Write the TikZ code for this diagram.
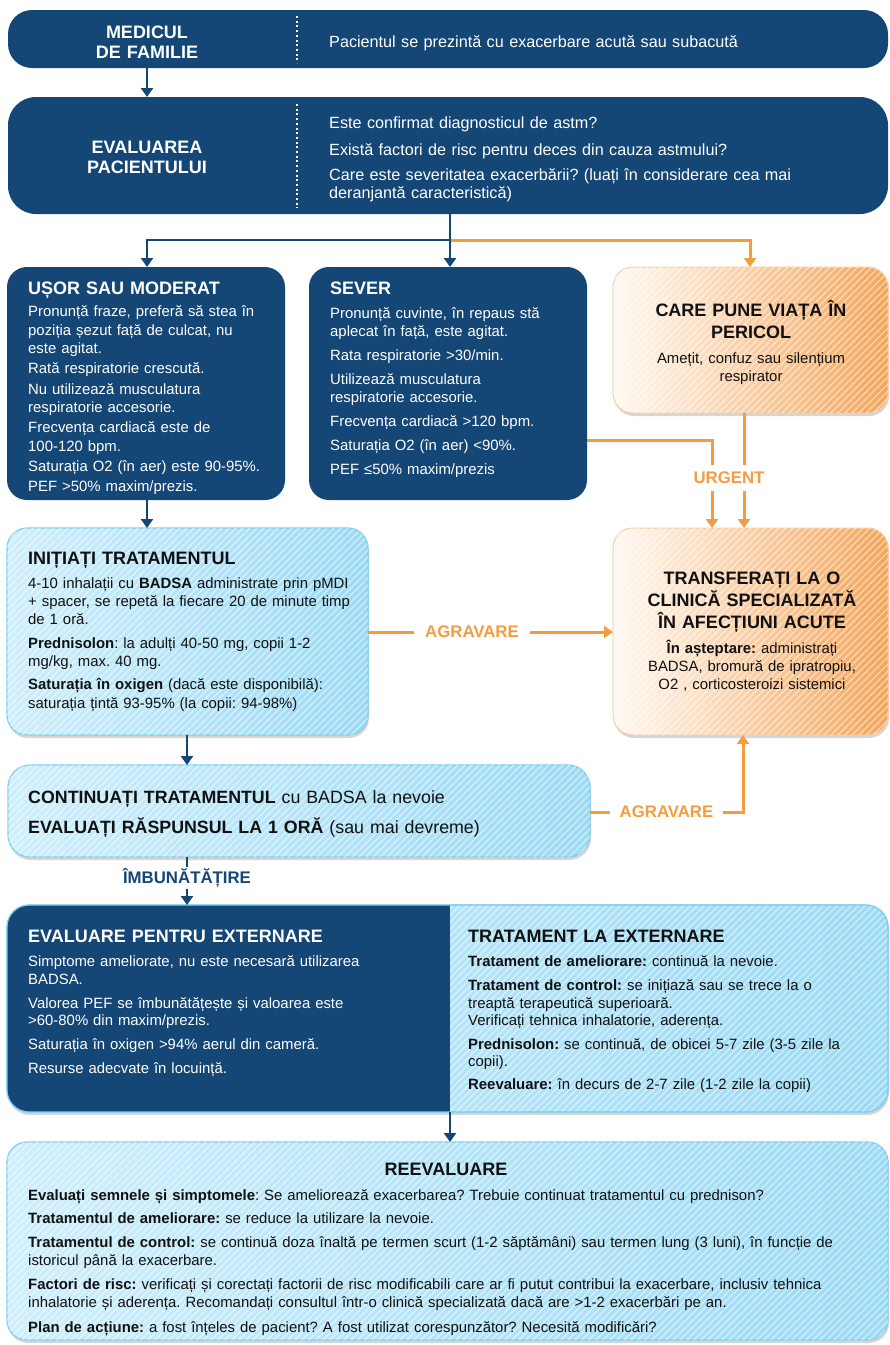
\documentclass[tikz,border=0pt]{standalone}
\usepackage{fontspec}
\setmainfont{Liberation Sans}
\usetikzlibrary{arrows.meta,backgrounds,calc}
\frenchspacing

\definecolor{navy}{RGB}{20,70,118}
\definecolor{skylight}{RGB}{206,238,252}
\definecolor{skydark}{RGB}{155,218,245}
\definecolor{skyedge}{RGB}{128,207,241}
\definecolor{amber}{RGB}{245,157,62}
\definecolor{amberlight}{RGB}{255,249,242}
\definecolor{amberdark}{RGB}{245,164,88}
\definecolor{amberedge}{RGB}{249,204,158}
\definecolor{ink}{RGB}{17,17,17}

\newcommand\fsz[2]{\fontsize{#1}{#2}\selectfont}

% thin white diagonal stripes clipped to a named rounded box
\newcommand\stripesin[2]{%
  \begin{scope}
    \clip[rounded corners=#2] (#1.north west) rectangle (#1.south east);
    \foreach \k in {-250,-243,...,890}
      \draw[hatchline] ($(#1.south west)+(\k,6)$) -- ++(250,-250);
  \end{scope}}

% soft offset shadow under a named rounded box
\newcommand\boxshadow[2]{%
  \begin{pgfonlayer}{background}
    \fill[black,opacity=0.16,rounded corners=#2]
      ($(#1.north west)+(1,3)$) rectangle ($(#1.south east)+(1,3)$);
  \end{pgfonlayer}}

\tikzset{
  box/.style={rectangle, inner sep=0pt, outer sep=0pt, anchor=north west},
  navybox/.style={box, fill=navy},
  skybox/.style={box, left color=skylight, right color=skydark, draw=skyedge, line width=1.2pt},
  amberbox/.style={box, left color=amberlight, right color=amberdark, draw=amberedge, line width=1pt},
  hatchline/.style={draw=white, line width=1.3pt, opacity=0.55},
  txt/.style={inner sep=0pt, anchor=base west, align=left, text width=#1},
  ctxt/.style={inner sep=0pt, anchor=base, align=center, text width=#1},
  bodyfont/.style={font=\fsz{14.9}{18.3}},
  barfont/.style={font=\fsz{16.2}{18.3}},
  headfont/.style={font=\fsz{18}{21.7}\bfseries},
  navyline/.style={draw=navy, line width=2.5pt},
  navyarrow/.style={navyline, -{Triangle[length=9pt,width=12pt]}},
  amberline/.style={draw=amber, line width=3pt},
  amberarrow/.style={amberline, -{Triangle[length=9pt,width=12pt]}},
  flowlabel/.style={fill=white, font=\fsz{16.8}{20}\bfseries, inner ysep=3pt, inner xsep=10pt},
  divider/.style={draw=white, line width=2pt, dash pattern=on 2pt off 2.7pt},
}

\begin{document}
\begin{tikzpicture}[x=1pt,y=-1pt]
\useasboundingbox (0,0) rectangle (890,1345);

% guide coordinates for the connectors
\coordinate (colA) at (147,0);
\coordinate (split) at (450,240);
\coordinate (colC) at (750,0);
\coordinate (colD) at (712,0);
\coordinate (colE) at (744,0);
\coordinate (colF) at (187,0);
\coordinate (colG) at (743,0);
\coordinate (rowU) at (0,440);
\coordinate (rowA) at (0,632);
\coordinate (rowB) at (0,812);

% boxes
\node[navybox, rounded corners=24pt, minimum width=880pt, minimum height=58pt] (fam) at (8,10) {};
\node[navybox, rounded corners=28pt, minimum width=880pt, minimum height=117pt] (eval) at (8,97) {};
\node[navybox, rounded corners=20pt, minimum width=278pt, minimum height=233pt] (usor) at (7,267) {};
\node[navybox, rounded corners=20pt, minimum width=278pt, minimum height=233pt] (sever) at (309,267) {};
\node[amberbox, rounded corners=20pt, minimum width=275pt, minimum height=146pt] (life) at (613,267) {};
\node[skybox, rounded corners=20pt, minimum width=361pt, minimum height=207pt] (init) at (7,528) {};
\node[amberbox, rounded corners=20pt, minimum width=275pt, minimum height=207pt] (transfer) at (613,528) {};
\node[skybox, rounded corners=22pt, minimum width=582pt, minimum height=92pt] (cont) at (8,765) {};
\node[skybox, rounded corners=22pt, minimum width=881pt, minimum height=207pt] (disch) at (7,905) {};
\node[skybox, rounded corners=20pt, minimum width=881pt, minimum height=198pt] (reeval) at (7,1142) {};

\boxshadow{life}{20pt}
\boxshadow{init}{20pt}
\boxshadow{transfer}{20pt}
\boxshadow{cont}{22pt}
\boxshadow{disch}{22pt}
\boxshadow{reeval}{20pt}

\stripesin{life}{20pt}
\stripesin{init}{20pt}
\stripesin{transfer}{20pt}
\stripesin{cont}{22pt}
\stripesin{reeval}{20pt}

% discharge box: dark left half, striped right half
\begin{scope}
  \clip[rounded corners=22pt] (disch.north west) rectangle (disch.south east);
  \fill[navy] (disch.north west) rectangle (disch.south -| split);
\end{scope}
\begin{scope}
  \clip (disch.north -| split) rectangle (disch.south east);
  \stripesin{disch}{22pt}
\end{scope}
\draw[skyedge, line width=1.2pt, rounded corners=22pt] (disch.north west) rectangle (disch.south east);

% dotted dividers in the two top bars
\draw[divider] (297,16) -- (297,63);
\draw[divider] (297,104) -- (297,208);

% connectors
\draw[navyarrow] (fam.south -| colA) -- (eval.north -| colA);
\draw[amberarrow] (split) -| (life.north -| colC);
\draw[navyline] (eval.south -| split) -- (split);
\draw[navyarrow] (split) -| (usor.north -| colA);
\draw[navyarrow] (split) -- (sever.north -| split);

\draw[amberarrow] (sever.east |- rowU) -| (transfer.north -| colD);
\draw[amberarrow] (life.south -| colE) -- (transfer.north -| colE);
\node[flowlabel, text=amber, inner ysep=7.5pt, inner xsep=3pt] (urgent) at (729,478) {URGENT};

\draw[navyarrow] (usor.south -| colA) -- (init.north -| colA);
\draw[amberarrow] (init.east |- rowA) -- (transfer.west |- rowA);
\node[flowlabel, text=amber, inner xsep=11.5pt] (worse1) at (472,632) {AGRAVARE};

\draw[navyarrow] (init.south -| colF) -- (cont.north -| colF);
\draw[amberarrow] (cont.east |- rowB) -| (transfer.south -| colG);
\node[flowlabel, text=amber, inner xsep=9.5pt] (worse2) at (666.5,812) {AGRAVARE};

\draw[navyarrow] (cont.south -| colF) -- (disch.north -| colF);
\node[flowlabel, text=navy, inner xsep=4pt, inner ysep=2pt] (better) at (187,878) {ÎMBUNĂTĂȚIRE};

\draw[navyarrow] (disch.south -| split) -- (reeval.north -| split);

% texts
\node[ctxt=220pt, font=\fsz{18}{20}\bfseries, text=white] (famL) at (147,38) {MEDICUL\\DE FAMILIE};
\node[txt=560pt, barfont, text=white] (famR) at (329,47) {Pacientul se prezintă cu exacerbare acută sau subacută};

\node[ctxt=220pt, font=\fsz{18}{20}\bfseries, text=white] (evalL) at (147,153) {EVALUAREA\\PACIENTULUI};
\node[txt=560pt, barfont, text=white] (evalR) at (329,128.5) {Este confirmat diagnosticul de astm?\\[8.2pt] Există factori de risc pentru deces din cauza astmului?\\[6.7pt] Care este severitatea exacerbării? (luați în considerare cea mai\\ deranjantă caracteristică)};

\node[txt=300pt, headfont, text=white] (usorH) at (28,294.7) {UȘOR SAU MODERAT};
\node[txt=300pt, bodyfont, text=white] (usorT) at (28,316.7) {Pronunță fraze, preferă să stea în\\ poziția șezut față de culcat, nu\\ este agitat.\\[2.1pt] Rată respiratorie crescută.\\[2.1pt] Nu utilizează musculatura\\ respiratorie accesorie.\\[2.1pt] Frecvența cardiacă este de\\ 100-120 bpm.\\[2.1pt] Saturația O2 (în aer) este 90-95\%.\\[2.1pt] PEF >50\% maxim/prezis.};

\node[txt=300pt, headfont, text=white] (severH) at (330,294.7) {SEVER};
\node[txt=300pt, bodyfont, text=white] (severT) at (330,318.3) {Pronunță cuvinte, în repaus stă\\ aplecat în față, este agitat.\\[5.7pt] Rata respiratorie >30/min.\\[5.7pt] Utilizează musculatura\\ respiratorie accesorie.\\[5.7pt] Frecvența cardiacă >120 bpm.\\[5.7pt] Saturația O2 (în aer) <90\%.\\[5.7pt] PEF ≤50\% maxim/prezis};

\node[ctxt=260pt, headfont, text=ink] (lifeH) at (751,316.4) {CARE PUNE VIAȚA ÎN\\PERICOL};
\node[ctxt=260pt, bodyfont, text=ink] (lifeT) at (751,363.3) {Amețit, confuz sau silențium\\respirator};

\node[txt=360pt, headfont, text=ink] (initH) at (28,564.5) {INIȚIAȚI TRATAMENTUL};
\node[txt=360pt, bodyfont, text=ink] (initT) at (28,588.3) {4-10 inhalații cu \textbf{BADSA} administrate prin pMDI\\ + spacer, se repetă la fiecare 20 de minute timp\\ de 1 oră.\\[5pt] \textbf{Prednisolon}: la adulți 40-50 mg, copii 1-2\\ mg/kg, max. 40 mg.\\[5pt] \textbf{Saturația în oxigen} (dacă este disponibilă):\\ saturația țintă 93-95\% (la copii: 94-98\%)};

\node[ctxt=270pt, headfont, text=ink] (transferH) at (752,584.7) {TRANSFERAȚI LA O\\CLINICĂ SPECIALIZATĂ\\ÎN AFECȚIUNI ACUTE};
\node[ctxt=270pt, bodyfont, text=ink] (transferT) at (752,653.3) {\textbf{În așteptare:} administrați\\BADSA, bromură de ipratropiu,\\O2 , corticosteroizi sistemici};

\node[txt=560pt, font=\fsz{17.8}{30}, text=ink] (contT) at (28,803) {\textbf{CONTINUAȚI TRATAMENTUL} cu BADSA la nevoie\\ \textbf{EVALUAȚI RĂSPUNSUL LA 1 ORĂ} (sau mai devreme)};

\node[txt=420pt, headfont, text=white] (dischH) at (28,942.5) {EVALUARE PENTRU EXTERNARE};
\node[txt=420pt, font=\fsz{14.9}{17.7}, text=white] (dischT) at (28,966.7) {Simptome ameliorate, nu este necesară utilizarea\\ BADSA.\\[6pt] Valorea PEF se îmbunătățește și valoarea este\\ >60-80\% din maxim/prezis.\\[6pt] Saturația în oxigen >94\% aerul din cameră.\\[6.5pt] Resurse adecvate în locuință.};

\node[txt=420pt, headfont, text=ink] (careH) at (468,942.5) {TRATAMENT LA EXTERNARE};
\node[txt=420pt, font=\fsz{14.9}{17.7}, text=ink] (careT) at (468,966.7) {\textbf{Tratament de ameliorare:} continuă la nevoie.\\[6pt] \textbf{Tratament de control:} se inițiază sau se trece la o\\ treaptă terapeutică superioară.\\ Verificați tehnica inhalatorie, aderența.\\[5.5pt] \textbf{Prednisolon:} se continuă, de obicei 5-7 zile (3-5 zile la\\ copii).\\[5pt] \textbf{Reevaluare:} în decurs de 2-7 zile (1-2 zile la copii)};

\node[ctxt=400pt, headfont, text=ink] (reevalH) at (446,1175) {REEVALUARE};
\node[txt=860pt, font=\fsz{14.9}{18}, text=ink] (reevalT) at (28,1200) {\textbf{Evaluați semnele și simptomele}: Se ameliorează exacerbarea? Trebuie continuat tratamentul cu prednison?\\[5pt] \textbf{Tratamentul de ameliorare:} se reduce la utilizare la nevoie.\\[6pt] \textbf{Tratamentul de control:} se continuă doza înaltă pe termen scurt (1-2 săptămâni) sau termen lung (3 luni), în funcție de\\ istoricul până la exacerbare.\\[6pt] \textbf{Factori de risc:} verificați și corectați factorii de risc modificabili care ar fi putut contribui la exacerbare, inclusiv tehnica\\ inhalatorie și aderența. Recomandați consultul într-o clinică specializată dacă are >1-2 exacerbări pe an.\\[7pt] \textbf{Plan de acțiune:} a fost înțeles de pacient? A fost utilizat corespunzător? Necesită modificări?};

\end{tikzpicture}
\end{document}
